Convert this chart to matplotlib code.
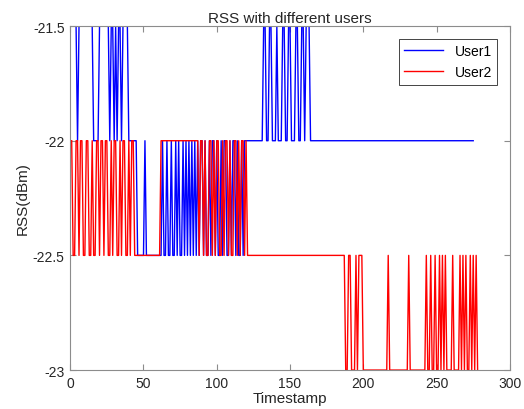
import numpy as np
import matplotlib
matplotlib.use('Agg')
import matplotlib.pyplot as plt
from matplotlib.ticker import FuncFormatter

# RSS levels, stored as (level, run length) pairs
# timestamps start at 1
user1_levels = [-21.5, -22, -21.5, -22, -21.5, -22, -21.5, -22, -21.5, -22, -21.5, -22, -21.5,
                -22, -22.5, -22, -22.5,
                # dense toggling 63-88
                -22, -22.5, -22, -22.5, -22, -22.5, -22, -22.5, -22, -22.5, -22, -22.5,
                -22, -22.5, -22, -22.5, -22, -22.5, -22, -22.5, -22, -22.5,
                # toggling 89-118
                -22, -22.5, -22, -22.5, -22, -22.5, -22, -22.5, -22, -22.5, -22,
                -22.5, -22, -22.5, -22, -22.5, -22, -22.5, -22, -22.5, -22, -22.5,
                -22,
                # spikes up 132-163
                -21.5, -22, -21.5, -22, -21.5, -22, -21.5, -22, -21.5, -22, -21.5,
                -22, -21.5, -22, -21.5,
                -22]
user1_runs = [4, 1, 10, 4, 7, 1, 2, 1, 1, 1, 2, 1, 4,
              6, 5, 1, 11,
              1, 2, 1, 2, 1, 2, 1, 1, 1, 2, 1, 1,
              1, 1, 1, 1, 1, 1, 1, 1, 1, 1,
              2, 1, 1, 2, 1, 1, 2, 1, 1, 2, 1,
              1, 2, 2, 1, 1, 2, 1, 1, 2, 1, 1,
              13,
              2, 2, 2, 3, 1, 3, 2, 2, 2, 3, 2,
              2, 2, 1, 3,
              112]

user2_levels = [-22, -22.5, -22, -22.5, -22, -22.5, -22, -22.5, -22, -22.5, -22, -22.5, -22, -22.5,
                -22, -22.5, -22, -22.5, -22, -22.5, -22, -22.5, -22, -22.5, -22, -22.5, -22,
                -22.5, -22,
                # toggling 88-120
                -22.5, -22, -22.5, -22, -22.5, -22, -22.5, -22, -22.5, -22, -22.5, -22,
                -22.5, -22, -22.5, -22, -22.5, -22, -22.5, -22, -22.5, -22, -22.5, -22,
                -22.5,
                # toggling down to -23 from 188
                -23, -22.5, -23, -22.5, -23, -22.5, -23, -22.5, -23, -22.5, -23,
                -22.5, -23, -22.5, -23, -22.5, -23, -22.5, -23, -22.5, -23, -22.5, -23,
                -22.5, -23, -22.5, -23, -22.5, -23, -22.5, -23, -22.5, -23, -22.5, -23,
                -22.5, -23]
user2_runs = [1, 2, 2, 1, 2, 2, 2, 2, 1, 2, 2, 1, 2, 1,
              2, 2, 1, 1, 2, 2, 1, 1, 2, 2, 1, 1, 2,
              18, 26,
              1, 2, 1, 1, 2, 2, 1, 1, 1, 2, 2, 1,
              1, 2, 1, 1, 2, 2, 1, 1, 1, 2, 1, 1,
              67,
              2, 2, 3, 1, 1, 3, 17, 1, 13, 1, 11,
              1, 2, 1, 2, 1, 2, 1, 1, 1, 1, 1, 4,
              1, 4, 1, 1, 1, 1, 1, 2, 1, 1, 1, 1,
              1, 1]

rss1 = np.repeat(user1_levels, user1_runs)
rss2 = np.repeat(user2_levels, user2_runs)
t1 = np.arange(1, len(rss1) + 1)
t2 = np.arange(1, len(rss2) + 1)

plt.rcParams['font.family'] = ['Liberation Sans', 'DejaVu Sans']

fig = plt.figure(figsize=(5.24, 4.10), dpi=100)
ax = fig.add_axes([0.134, 0.095, 0.839, 0.839])

ax.plot(t1, rss1, color='#0000ff', lw=1.0, label='User1')
ax.plot(t2, rss2, color='#ff0000', lw=1.0, label='User2')

ax.set_xlim(0, 300)
ax.set_ylim(-23, -21.5)
ax.set_xticks(np.arange(0, 301, 50))
ax.set_yticks([-23, -22.5, -22, -21.5])
ax.yaxis.set_major_formatter(FuncFormatter(lambda v, p: '%g' % v))

axcol = '#8c8c8c'
for s in ax.spines.values():
    s.set_color(axcol)
    s.set_linewidth(0.8)
ax.tick_params(direction='in', top=True, right=True, length=4, color=axcol,
               labelsize=10, labelcolor='#262626', pad=4)

ax.set_title('RSS with different users', fontsize=11, color='#262626', pad=3)
ax.set_xlabel('Timestamp', fontsize=11, color='#262626', labelpad=1)
ax.set_ylabel('RSS(dBm)', fontsize=11, color='#262626', labelpad=2)

leg = ax.legend(loc='upper right', fancybox=False, framealpha=1, fontsize=10,
                edgecolor='#262626', handlelength=2.8, borderaxespad=0.9)
leg.get_frame().set_linewidth(0.6)

fig.savefig('out.png', dpi=100)
